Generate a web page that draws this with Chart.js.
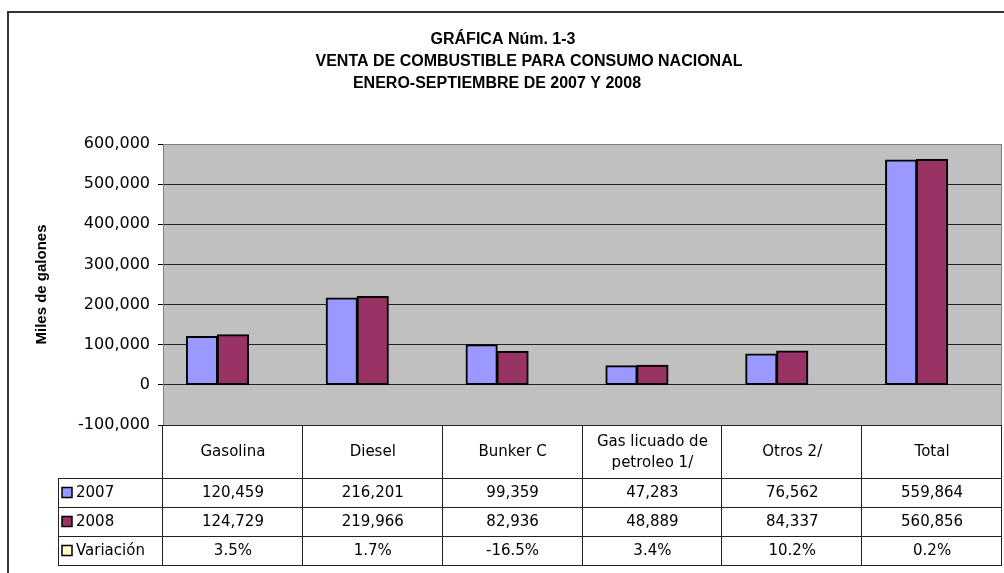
<!DOCTYPE html>
<html>
<head>
<meta charset="utf-8">
<script src="https://cdn.jsdelivr.net/npm/chart.js@4/dist/chart.umd.min.js"></script>
<style>
  body { margin: 0; background: #fff; }
  #chart { display: block; }
</style>
</head>
<body>
<canvas id="chart" width="1004" height="573"></canvas>
<script>
const titleLines = ['GRÁFICA Núm. 1-3', 'VENTA DE COMBUSTIBLE PARA CONSUMO NACIONAL', 'ENERO-SEPTIEMBRE DE 2007 Y 2008'];
const titleCenters = [503, 529, 497];
const yAxisTitle = 'Miles de galones';

const categories = ['Gasolina', 'Diesel', 'Bunker C', ['Gas licuado de', 'petroleo 1/'], 'Otros 2/', 'Total'];
const seriesNames = ['2007', '2008', 'Variación'];
const values2007 = [120459, 216201, 99359, 47283, 76562, 559864];
const values2008 = [124729, 219966, 82936, 48889, 84337, 560856];
const variacion = [3.5, 1.7, -16.5, 3.4, 10.2, 0.2];
const seriesColors = ['#9999FF', '#993366', '#FFFFCC'];

const yMin = -100000;
const yMax = 600000;
const yStep = 100000;

const tableFont = '15px "DejaVu Sans", sans-serif';

function fmtNum(v) {
  return v.toLocaleString('en-US');
}

// box round the whole chart, grey plot background and the three title lines
const backgroundPlugin = {
  id: 'background',
  beforeDraw(chart) {
    const ctx = chart.ctx;
    const a = chart.chartArea;
    ctx.save();
    ctx.strokeStyle = '#333';
    ctx.lineWidth = 2;
    ctx.strokeRect(8, 12, 1100, 700);
    ctx.fillStyle = '#C0C0C0';
    ctx.fillRect(a.left, a.top, a.right - a.left, a.bottom - a.top);

    ctx.fillStyle = '#000';
    ctx.font = 'bold 16px "Liberation Sans", Arial, sans-serif';
    ctx.textAlign = 'center';
    ctx.textBaseline = 'middle';
    titleLines.forEach((t, i) => {
      ctx.fillText(t, titleCenters[i], 40 + i * 22);
    });
    ctx.restore();
  }
};

// data table under the plot, columns follow the category scale
const tablePlugin = {
  id: 'dataTable',
  afterDraw(chart) {
    const ctx = chart.ctx;
    const a = chart.chartArea;
    const xScale = chart.scales.x;
    const n = categories.length;
    const colW = (a.right - a.left) / n;
    const headerH = 53;
    const rowH = 29;
    const legendLeft = 58;
    const top = a.bottom;
    const rowsTop = top + headerH;
    const bottom = rowsTop + rowH * 3;
    const rows = [values2007.map(fmtNum), values2008.map(fmtNum), variacion.map(v => v.toFixed(1) + '%')];

    ctx.save();
    // plot frame, right side
    ctx.strokeStyle = '#808080';
    ctx.lineWidth = 1;
    ctx.beginPath();
    ctx.moveTo(a.right - 0.5, a.top);
    ctx.lineTo(a.right - 0.5, a.bottom);
    ctx.stroke();

    ctx.strokeStyle = '#222';
    ctx.beginPath();
    ctx.moveTo(a.left, top + 0.5);
    ctx.lineTo(a.right, top + 0.5);
    for (let r = 0; r <= 3; r++) {
      const y = Math.round(rowsTop + r * rowH) + 0.5;
      ctx.moveTo(legendLeft, y);
      ctx.lineTo(a.right, y);
    }
    for (let i = 0; i <= n; i++) {
      const x = Math.round(a.left + i * colW) - 0.5;
      ctx.moveTo(x, top);
      ctx.lineTo(x, bottom);
    }
    ctx.moveTo(legendLeft + 0.5, rowsTop);
    ctx.lineTo(legendLeft + 0.5, bottom);
    ctx.stroke();

    ctx.fillStyle = '#000';
    ctx.font = tableFont;
    ctx.textAlign = 'center';
    ctx.textBaseline = 'middle';
    categories.forEach((c, i) => {
      const cx = xScale.getPixelForValue(i);
      const lines = Array.isArray(c) ? c : [c];
      const start = top + headerH / 2 - (lines.length - 1) * 21 / 2;
      lines.forEach((l, j) => ctx.fillText(l, cx, start + j * 21 + 1));
    });

    rows.forEach((row, r) => {
      const cy = rowsTop + r * rowH + rowH / 2 + 1;
      row.forEach((txt, i) => {
        ctx.fillText(txt, xScale.getPixelForValue(i), cy);
      });
      // legend key and series name
      ctx.fillStyle = seriesColors[r];
      ctx.fillRect(62, cy - 6, 10, 10);
      ctx.strokeStyle = '#000';
      ctx.lineWidth = 1.5;
      ctx.strokeRect(62, cy - 6, 10, 10);
      ctx.fillStyle = '#000';
      ctx.textAlign = 'left';
      ctx.fillText(seriesNames[r], 76, cy);
      ctx.textAlign = 'center';
    });
    ctx.restore();
  }
};

new Chart(document.getElementById('chart'), {
  type: 'bar',
  data: {
    labels: categories,
    datasets: [
      { label: seriesNames[0], data: values2007, backgroundColor: seriesColors[0], borderColor: '#000', borderWidth: 2, borderSkipped: false, inflateAmount: 0.6 },
      { label: seriesNames[1], data: values2008, backgroundColor: seriesColors[1], borderColor: '#000', borderWidth: 2, borderSkipped: false, inflateAmount: 0.6 },
      // percentages are far too small to show on this scale, the bar only keeps its slot
      { label: seriesNames[2], data: variacion, backgroundColor: 'rgba(0,0,0,0)', borderWidth: 0 },
    ],
  },
  options: {
    responsive: false,
    animation: false,
    layout: { padding: { left: 0, top: 144, right: 2, bottom: 148 } },
    datasets: { bar: { barPercentage: 1, categoryPercentage: 0.664 } },
    plugins: {
      legend: { display: false },
      tooltip: { enabled: false },
    },
    scales: {
      x: { display: false },
      y: {
        min: yMin,
        max: yMax,
        afterFit(scale) { scale.width = 163; },
        ticks: {
          stepSize: yStep,
          color: '#000',
          padding: 8,
          font: { family: '"DejaVu Sans", sans-serif', size: 16 },
          callback: v => fmtNum(v),
        },
        grid: {
          color: ctx => (ctx.tick && ctx.tick.value === yMax ? '#808080' : '#222'),
          tickColor: '#000',
          tickLength: 5,
        },
        border: { color: '#808080' },
        title: {
          display: true,
          text: yAxisTitle,
          color: '#000',
          font: { family: '"Liberation Sans", Arial, sans-serif', size: 15, weight: 'bold' },
          padding: { top: 33, bottom: 0 },
        },
      },
    },
  },
  plugins: [backgroundPlugin, tablePlugin],
});
</script>
</body>
</html>
